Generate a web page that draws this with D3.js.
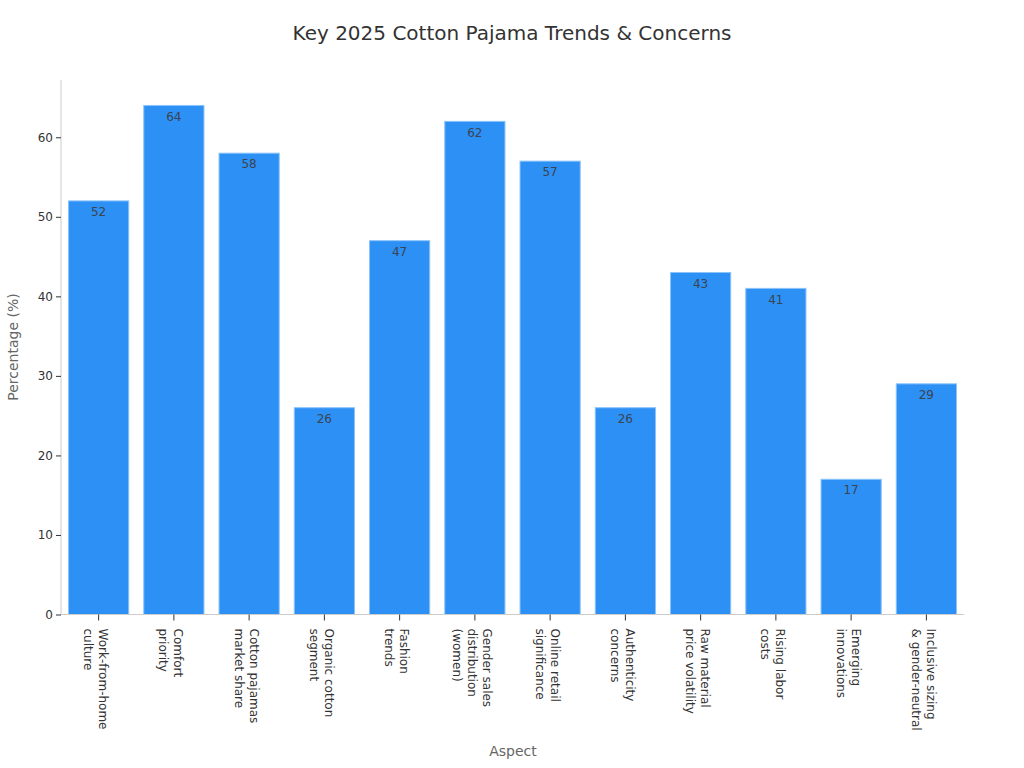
<!DOCTYPE html>
<html><head><meta charset="utf-8">
<script src="https://cdn.jsdelivr.net/npm/d3@7"></script>
<style>
body{margin:0;background:#fff;}
text{font-family:"DejaVu Sans",sans-serif;}
</style></head>
<body><svg id="c" width="1024" height="768"></svg>
<script>
const categories = [
  ["Work-from-home","culture"],
  ["Comfort","priority"],
  ["Cotton pajamas","market share"],
  ["Organic cotton","segment"],
  ["Fashion","trends"],
  ["Gender sales","distribution","(women)"],
  ["Online retail","significance"],
  ["Authenticity","concerns"],
  ["Raw material","price volatility"],
  ["Rising labor","costs"],
  ["Emerging","innovations"],
  ["Inclusive sizing","& gender-neutral"]
];
const values = [52,64,58,26,47,62,57,26,43,41,17,29];
const yTicks = [0,10,20,30,40,50,60];
const title = "Key 2025 Cotton Pajama Trends & Concerns";
const xTitle = "Aspect";
const yTitle = "Percentage (%)";

const svg = d3.select("#c");
const m = {left:61, right:60, top:80, bottom:153.5};
const W = 1024, H = 768;
const ids = categories.map((d,i)=>i);
const x = d3.scaleBand().domain(ids).range([m.left, W - m.right]).paddingInner(0.2).paddingOuter(0.1);
const y = d3.scaleLinear().domain([0, d3.max(values)*1.05]).range([H - m.bottom, m.top]);

svg.append("text").attr("x",512).attr("y",40).attr("text-anchor","middle")
  .attr("font-size",20).attr("fill","#333").text(title);

// y axis
const ya = svg.append("g").attr("transform",`translate(${m.left},0)`)
  .call(d3.axisLeft(y).tickValues(yTicks).tickSize(5).tickPadding(3));
ya.select(".domain").attr("stroke","#ccc").attr("d",`M0,${y.range()[0]}V${y.range()[1]}`);
ya.selectAll(".tick line").attr("stroke","#333");
ya.selectAll(".tick text").attr("font-size",12).attr("fill","#333").attr("font-family","DejaVu Sans");

// bars
svg.append("g").selectAll("rect").data(values).join("rect")
  .attr("x",(d,i)=>x(i)).attr("width",x.bandwidth())
  .attr("y",d=>y(d)).attr("height",d=>y(0)-y(d))
  .attr("fill","#2d90f5").attr("stroke","#8cc4fa").attr("stroke-width",1);

svg.append("g").selectAll("text").data(values).join("text")
  .attr("x",(d,i)=>x(i)+x.bandwidth()/2).attr("y",d=>y(d)+11)
  .attr("dy","0.35em").attr("text-anchor","middle")
  .attr("font-size",12).attr("fill","#3a4450").text(d=>d);

// x axis
const xa = svg.append("g").attr("transform",`translate(0,${y(0)})`)
  .call(d3.axisBottom(x).tickSize(6).tickFormat(""));
xa.select(".domain").attr("stroke","#ccc").attr("d",`M${m.left},0H${W-m.right}`);
xa.selectAll(".tick line").attr("stroke","#333");

const lh = 15;
categories.forEach((lines,i)=>{
  const cx = x(i)+x.bandwidth()/2;
  const g = svg.append("g").attr("transform",`translate(${cx},${y(0)+14}) rotate(90)`);
  const n = lines.length;
  lines.forEach((s,j)=>{
    g.append("text").attr("x",0).attr("y",(j-(n-1)/2)*lh+3)
      .attr("dominant-baseline","central").attr("text-anchor","start")
      .attr("font-size",12).attr("fill","#333").text(s);
  });
});

svg.append("text").attr("x",513).attr("y",756).attr("text-anchor","middle")
  .attr("font-size",14).attr("fill","#666").text(xTitle);
svg.append("text").attr("transform",`translate(18,347) rotate(-90)`).attr("text-anchor","middle")
  .attr("font-size",14).attr("fill","#666").text(yTitle);
</script></body></html>
